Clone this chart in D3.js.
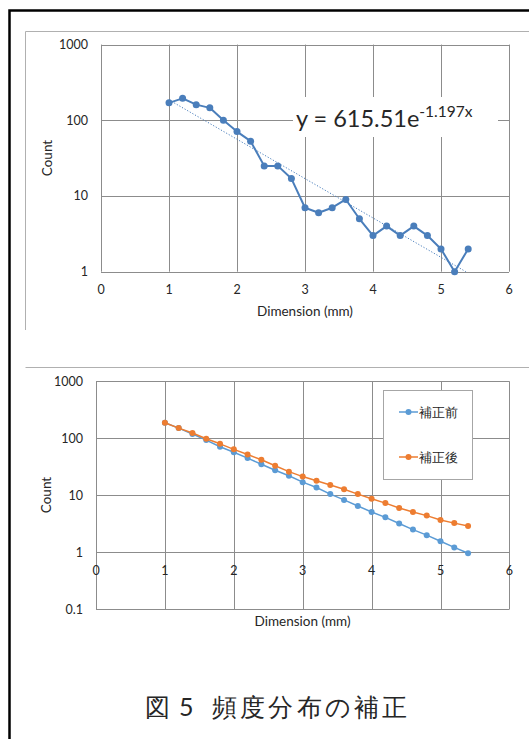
<!DOCTYPE html>
<html>
<head>
<meta charset="utf-8">
<script src="https://cdn.jsdelivr.net/npm/d3@7"></script>
<style>
  body { margin: 0; background: #fff; }
  svg { display: block; }
  text { font-family: Lato, "Open Sans", sans-serif; fill: #262626; }
</style>
</head>
<body>
<div id="chart"></div>
<script>
// data
var dims = [1, 1.2, 1.4, 1.6, 1.8, 2, 2.2, 2.4, 2.6, 2.8, 3, 3.2, 3.4, 3.6, 3.8, 4, 4.2, 4.4, 4.6, 4.8, 5, 5.2, 5.4];
var counts = [170, 195, 161, 146, 100, 71, 53, 25, 25, 17, 7, 6, 7, 9, 5, 3, 4, 3, 4, 3, 2, 1, 2];
var trendX = [1, 5.4];
var trendY = [186, 0.96];
var before = [187, 151, 119, 93, 71, 57, 45, 35, 27.5, 22, 17, 13.7, 10.5, 8.3, 6.5, 5.1, 4.1, 3.2, 2.5, 2.0, 1.56, 1.22, 0.96];
var after = [187, 151, 124, 98, 80, 64, 52, 42, 33, 26, 21.3, 18, 15.2, 12.8, 10.5, 8.7, 7.3, 6.0, 5.1, 4.4, 3.7, 3.25, 2.9];
var xTicks = [0, 1, 2, 3, 4, 5, 6];
var yTicks1 = [1, 10, 100, 1000];
var yTicks2 = [0.1, 1, 10, 100, 1000];
var seriesNames = ["補正前", "補正後"];

var width = 529, height = 739;
var gridColor = "#8c8c8c";

var svg = d3.select("#chart").append("svg")
  .attr("width", width)
  .attr("height", height);

// outer frame (left + top)
svg.append("path")
  .attr("d", "M9.5," + height + "V10.5H" + width)
  .attr("fill", "none")
  .attr("stroke", "#000")
  .attr("stroke-width", 2.5);

// chart area frames
svg.append("path")
  .attr("d", "M25.5,330V31.5H" + width)
  .attr("fill", "none").attr("stroke", "#b0b0b0").attr("stroke-width", 1);
svg.append("path")
  .attr("d", "M25.5,367.5H" + width)
  .attr("fill", "none").attr("stroke", "#b0b0b0").attr("stroke-width", 1);

function drawGrid(g, x, y, yTicks) {
  var y0 = y.range()[0], y1 = y.range()[1];
  var x0 = x.range()[0], x1 = x.range()[1];
  g.selectAll("line.vg").data(xTicks).join("line")
    .attr("class", "vg")
    .attr("x1", d => Math.round(x(d)) + 0.5).attr("x2", d => Math.round(x(d)) + 0.5)
    .attr("y1", y0).attr("y2", y1)
    .attr("stroke", gridColor).attr("stroke-width", 1);
  g.selectAll("line.hg").data(yTicks).join("line")
    .attr("class", "hg")
    .attr("x1", x0).attr("x2", x1)
    .attr("y1", d => Math.round(y(d)) + 0.5).attr("y2", d => Math.round(y(d)) + 0.5)
    .attr("stroke", gridColor).attr("stroke-width", 1);
  g.selectAll("text.yl").data(yTicks).join("text")
    .attr("class", "yl")
    .attr("x", x0 - 13).attr("y", d => y(d))
    .attr("dy", "0.35em")
    .attr("text-anchor", "end")
    .attr("font-size", 12.5)
    .text(d => String(d));
}

function drawSeries(g, x, y, vals, color, lw, r) {
  var pts = dims.map((d, i) => [d, vals[i]]);
  g.append("path")
    .datum(pts)
    .attr("fill", "none")
    .attr("stroke", color)
    .attr("stroke-width", lw)
    .attr("stroke-linejoin", "round")
    .attr("d", d3.line().x(d => x(d[0])).y(d => y(d[1])));
  g.selectAll(null).data(pts).join("circle")
    .attr("cx", d => x(d[0])).attr("cy", d => y(d[1]))
    .attr("r", r)
    .attr("fill", color);
}

// ---------- chart 1 ----------
var x1 = d3.scaleLinear().domain([0, 6]).range([101, 509]);
var y1 = d3.scaleLog().domain([1, 1000]).range([271.7, 44.6]);
var g1 = svg.append("g");
drawGrid(g1, x1, y1, yTicks1);

g1.selectAll("text.xl").data(xTicks).join("text")
  .attr("class", "xl")
  .attr("x", d => x1(d)).attr("y", 290)
  .attr("dy", "0.35em")
  .attr("text-anchor", "middle")
  .attr("font-size", 12.5)
  .text(d => d);

g1.append("defs").append("clipPath").attr("id", "clip1")
  .append("rect").attr("x", 101).attr("y", 44.6).attr("width", 408).attr("height", 227.1);

// trendline (exponential fit, straight on log axis)
g1.append("path")
  .datum(trendX.map((d, i) => [d, trendY[i]]))
  .attr("clip-path", "url(#clip1)")
  .attr("fill", "none")
  .attr("stroke", "#4a7ebb")
  .attr("stroke-width", 1)
  .attr("stroke-dasharray", "1.2,1.8")
  .attr("d", d3.line().x(d => x1(d[0])).y(d => y1(d[1])));

// equation label
g1.append("rect")
  .attr("x", 293).attr("y", 97).attr("width", 205).attr("height", 40)
  .attr("fill", "#fff");
var eq = g1.append("text")
  .attr("x", 296).attr("y", 127)
  .attr("font-size", 23.5)
  .attr("fill", "#000");
eq.append("tspan").text("y = 615.51e");
eq.append("tspan").attr("font-size", 15.5).attr("dy", -10).text("-1.197x");

drawSeries(g1, x1, y1, counts, "#4a7ebb", 2, 3.5);

g1.append("text")
  .attr("x", 305).attr("y", 311).attr("dy", "0.35em")
  .attr("text-anchor", "middle").attr("font-size", 13.5)
  .text("Dimension (mm)");
g1.append("text")
  .attr("transform", "translate(47,158) rotate(-90)")
  .attr("dy", "0.35em")
  .attr("text-anchor", "middle").attr("font-size", 13.5)
  .text("Count");

// ---------- chart 2 ----------
var x2 = d3.scaleLinear().domain([0, 6]).range([96, 509.4]);
var y2 = d3.scaleLog().domain([0.1, 1000]).range([609.3, 381.3]);
var g2 = svg.append("g");
drawGrid(g2, x2, y2, yTicks2);

g2.selectAll("text.xl").data(xTicks).join("text")
  .attr("class", "xl")
  .attr("x", d => x2(d)).attr("y", y2(1) + 18)
  .attr("dy", "0.35em")
  .attr("text-anchor", "middle")
  .attr("font-size", 12.5)
  .text(d => d);

var colors = ["#5b9bd5", "#ed7d31"];
drawSeries(g2, x2, y2, before, colors[0], 1.5, 3);
drawSeries(g2, x2, y2, after, colors[1], 1.5, 3);

g2.append("text")
  .attr("x", 302.6).attr("y", 621).attr("dy", "0.35em")
  .attr("text-anchor", "middle").attr("font-size", 13.5)
  .text("Dimension (mm)");
g2.append("text")
  .attr("transform", "translate(46,495) rotate(-90)")
  .attr("dy", "0.35em")
  .attr("text-anchor", "middle").attr("font-size", 13.5)
  .text("Count");

// legend
var lg = g2.append("g");
lg.append("rect")
  .attr("x", 383.5).attr("y", 390.5).attr("width", 89).attr("height", 89)
  .attr("fill", "#fff").attr("stroke", "#a6a6a6");
var items = lg.selectAll("g.item").data(seriesNames).join("g")
  .attr("class", "item")
  .attr("transform", (d, i) => "translate(0," + (412 + i * 45) + ")");
items.append("line")
  .attr("x1", 399).attr("x2", 418)
  .attr("stroke", (d, i) => colors[i]).attr("stroke-width", 1.5);
items.append("circle")
  .attr("cx", 408.5).attr("r", 3)
  .attr("fill", (d, i) => colors[i]);
items.append("text")
  .attr("x", 419).attr("dy", "0.35em")
  .attr("font-family", "'Noto Sans CJK JP', sans-serif")
  .attr("font-size", 13)
  .text(d => d);

// caption
var cap = svg.append("text")
  .attr("y", 716)
  .attr("font-family", "'Noto Sans CJK JP', sans-serif")
  .attr("font-size", 25)
  .attr("fill", "#111");
cap.append("tspan").attr("x", 145).text("図");
cap.append("tspan").attr("x", 179).text("5");
cap.append("tspan").attr("x", 212).attr("textLength", 195).attr("lengthAdjust", "spacing").text("頻度分布の補正");
</script>
</body>
</html>
